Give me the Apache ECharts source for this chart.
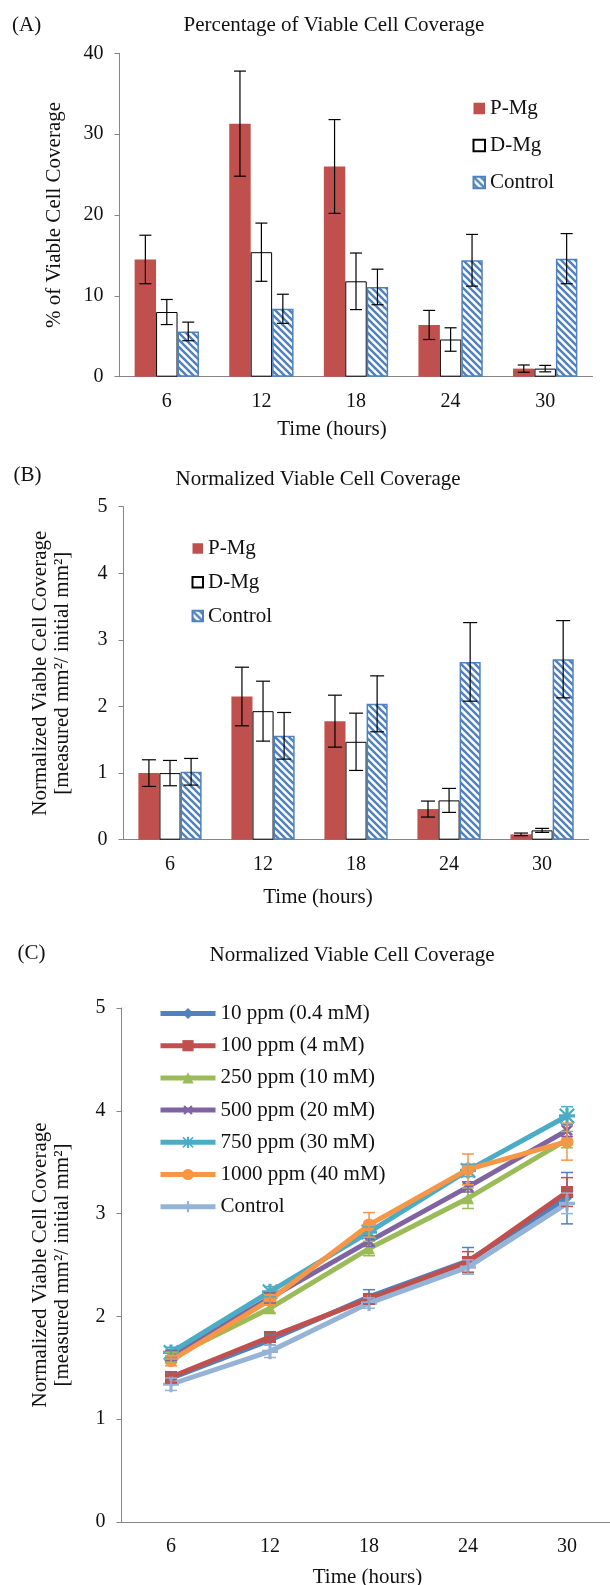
<!DOCTYPE html>
<html>
<head>
<meta charset="utf-8">
<script src="https://cdn.jsdelivr.net/npm/echarts@6/dist/echarts.min.js"></script>
<style>
  html, body { margin: 0; padding: 0; background: #fff; }
  #chart { width: 610px; height: 1585px; }
</style>
</head>
<body>
<div id="chart"></div>
<script>
let $ = a => document.querySelector(a)

// categories (hours)
const hours = ['6', '12', '18', '24', '30']

// (A) percentage of viable cell coverage
const pMgA = [14.5, 31.3, 26.0, 6.4, 1.0]
const pMgAErr = [3.0, 6.5, 5.8, 1.8, 0.45]
const dMgA = [8.0, 15.4, 11.8, 4.6, 1.0]
const dMgAErr = [1.55, 3.6, 3.5, 1.45, 0.4]
const ctlA = [5.6, 8.4, 11.1, 14.4, 14.6]
const ctlAErr = [1.15, 1.8, 2.2, 3.2, 3.1]

// (B) normalized viable cell coverage
const pMgB = [1.0, 2.15, 1.78, 0.46, 0.08]
const pMgBErr = [0.2, 0.44, 0.39, 0.12, 0.02]
const dMgB = [1.0, 1.93, 1.47, 0.59, 0.14]
const dMgBErr = [0.19, 0.45, 0.43, 0.18, 0.03]
const ctlB = [1.02, 1.56, 2.04, 2.67, 2.71]
const ctlBErr = [0.2, 0.35, 0.42, 0.59, 0.58]

// (C) normalized coverage by concentration
const names = ['10 ppm (0.4 mM)', '100 ppm (4 mM)', '250 ppm (10 mM)', '500 ppm (20 mM)', '750 ppm (30 mM)', '1000 ppm (40 mM)', 'Control ']
const ppm10 = [1.40, 1.77, 2.19, 2.54, 3.15]
const ppm10Err = [0.05, 0.05, 0.07, 0.13, 0.25]
const ppm100 = [1.41, 1.80, 2.17, 2.53, 3.21]
const ppm100Err = [0.05, 0.05, 0.05, 0.1, 0.14]
const ppm250 = [1.60, 2.08, 2.66, 3.15, 3.72]
const ppm250Err = [0.05, 0.05, 0.07, 0.1, 0.08]
const ppm500 = [1.62, 2.18, 2.73, 3.26, 3.81]
const ppm500Err = [0.05, 0.05, 0.05, 0.05, 0.06]
const ppm750 = [1.65, 2.24, 2.82, 3.42, 3.95]
const ppm750Err = [0.05, 0.05, 0.05, 0.06, 0.09]
const ppm1000 = [1.57, 2.16, 2.89, 3.43, 3.70]
const ppm1000Err = [0.05, 0.05, 0.12, 0.15, 0.18]
const ctlC = [1.34, 1.66, 2.13, 2.48, 3.10]
const ctlCErr = [0.06, 0.06, 0.05, 0.07, 0.1]

const FONT = 'Liberation Serif'
const AXIS = '#868686'
const RED = '#C0504D'
const BLUE = '#4F81BD'

// hatched fill for the control bars
const hatch = (() => {
    const c = document.createElement('canvas')
    c.width = 7; c.height = 7
    const ctx = c.getContext('2d')
    ctx.fillStyle = '#fff'
    ctx.fillRect(0, 0, 7, 7)
    ctx.strokeStyle = BLUE
    ctx.lineWidth = 2.4
    ctx.beginPath()
    ctx.moveTo(-1, -1); ctx.lineTo(8, 8)
    ctx.moveTo(-1, 6); ctx.lineTo(1, 8)
    ctx.moveTo(6, -1); ctx.lineTo(8, 1)
    ctx.stroke()
    return { image: c, repeat: 'repeat' }
})()

const CAT_GAP = 0.32

// error bars as custom series
function errBars(gi, vals, errs, idx, n, color, cap, width) {
    return {
        type: 'custom', xAxisIndex: gi, yAxisIndex: gi, z: 6, silent: true,
        data: vals.map((v, i) => [i, v, errs[i]]),
        encode: { x: 0, y: 1 },
        renderItem: (params, api) => {
            const i = api.value(0), v = api.value(1), e = api.value(2)
            const band = api.size([1, 0])[0]
            const bw = n > 1 ? band * (1 - CAT_GAP) / n : 0
            const x = api.coord([i, v])[0] + (idx - (n - 1) / 2) * bw
            const top = api.coord([i, v + e])[1]
            const bot = api.coord([i, v - e])[1]
            const st = { stroke: color, lineWidth: width }
            return {
                type: 'group', children: [
                    { type: 'line', shape: { x1: x, y1: top, x2: x, y2: bot }, style: st },
                    { type: 'line', shape: { x1: x - cap / 2, y1: top, x2: x + cap / 2, y2: top }, style: st },
                    { type: 'line', shape: { x1: x - cap / 2, y1: bot, x2: x + cap / 2, y2: bot }, style: st }
                ]
            }
        }
    }
}

function barSet(gi, p, d, c) {
    return [
        { name: 'P-Mg', type: 'bar', xAxisIndex: gi, yAxisIndex: gi, data: p,
          barGap: '0%', barCategoryGap: '32%', itemStyle: { color: RED } },
        { name: 'D-Mg', type: 'bar', xAxisIndex: gi, yAxisIndex: gi, data: d,
          barGap: '0%', barCategoryGap: '32%', itemStyle: { color: '#fff', borderColor: '#000', borderWidth: 1 } },
        { name: 'Control', type: 'bar', xAxisIndex: gi, yAxisIndex: gi, data: c,
          barGap: '0%', barCategoryGap: '32%', itemStyle: { color: hatch, borderColor: BLUE, borderWidth: 1.5 } }
    ]
}

const xAx = gi => ({
    type: 'category', gridIndex: gi, data: hours,
    axisLine: { lineStyle: { color: AXIS } },
    axisTick: { length: 6, lineStyle: { color: AXIS } },
    axisLabel: { color: '#111', fontFamily: FONT, fontSize: 20, margin: 15 }
})
const yAx = (gi, max, step, name, gap) => ({
    type: 'value', gridIndex: gi, min: 0, max: max, interval: step,
    splitLine: { show: false },
    axisLine: { show: true, lineStyle: { color: AXIS } },
    axisTick: { show: true, length: 5, lineStyle: { color: AXIS } },
    axisLabel: { color: '#111', fontFamily: FONT, fontSize: 20, margin: 16 },
    name: name, nameLocation: 'middle', nameGap: gap,
    nameTextStyle: { color: '#111', fontFamily: FONT, fontSize: 21, lineHeight: 22 }
})

const txt = (text, x, y, align) => ({
    type: 'text', x: x, y: y,
    style: { text: text, font: '21px "' + FONT + '"', fill: '#111', align: align || 'center', verticalAlign: 'middle' }
})

// markers
const plusPath = 'path://M4,0H6V4H10V6H6V10H4V6H0V4H4Z'
const starPath = 'path://M4,0H6V4H10V6H6V10H4V6H0V4H4Z M0,1L1,0L10,9L9,10Z M9,0L10,1L1,10L0,9Z'
const lineColors = ['#4F81BD', '#C0504D', '#9BBB59', '#8064A2', '#4BACC6', '#F79646', '#95B3D7']
const lineData = [ppm10, ppm100, ppm250, ppm500, ppm750, ppm1000, ctlC]
const lineErr = [ppm10Err, ppm100Err, ppm250Err, ppm500Err, ppm750Err, ppm1000Err, ctlCErr]
const symbols = ['diamond', 'rect', 'triangle', plusPath, starPath, 'circle', plusPath]
const symSizes = [10, 12, 12, 14, 16, 13, 16]
const symRot = [0, 0, 0, 45, 0, 0, 0]

const lineSeries = names.map((n, k) => ({
    name: n, type: 'line', xAxisIndex: 2, yAxisIndex: 2, data: lineData[k],
    symbol: symbols[k], symbolSize: symSizes[k], symbolRotate: symRot[k],
    color: lineColors[k],
    lineStyle: { width: 5, color: lineColors[k] },
    itemStyle: { color: lineColors[k] },
    z: 3 + k * 0.01
}))
const lineErrSeries = names.map((n, k) => errBars(2, lineData[k], lineErr[k], 0, 1, lineColors[k], 12, 1.5))

const legendText = { fontFamily: FONT, fontSize: 21, color: '#111' }

echarts.init($('#chart')).setOption({
    animation: false,
    backgroundColor: '#fff',
    grid: [
        { left: 119.5, top: 53.3, right: 17.5, height: 323.4, outerBoundsMode: 'none' },
        { left: 123.5, top: 506.7, right: 21.4, height: 333, outerBoundsMode: 'none' },
        { left: 121.5, top: 1008, right: -6.5, height: 514, outerBoundsMode: 'none' }
    ],
    xAxis: [xAx(0), xAx(1), xAx(2)],
    yAxis: [
        yAx(0, 40, 10, '% of Viable Cell Coverage', 54),
        yAx(1, 5, 1, 'Normalized Viable Cell Coverage\n[measured mm\u00b2/ initial mm\u00b2]', 50),
        yAx(2, 5, 1, 'Normalized Viable Cell Coverage\n[measured mm\u00b2/ initial mm\u00b2]', 48)
    ],
    legend: [
        { data: ['P-Mg', 'D-Mg', 'Control'], orient: 'vertical', left: 467.5, top: 93,
          itemWidth: 11.5, itemHeight: 11.5, itemGap: 16, icon: 'rect', textStyle: legendText,
          selectedMode: false },
        { data: ['P-Mg', 'D-Mg', 'Control'], orient: 'vertical', left: 186.5, top: 533,
          itemWidth: 10.5, itemHeight: 10.5, itemGap: 12.8, icon: 'rect', textStyle: legendText,
          selectedMode: false },
        { data: names, orient: 'vertical', left: 153, top: 998,
          itemWidth: 55, itemHeight: 14, itemGap: 11.2, textStyle: legendText,
          lineStyle: { width: 5 }, formatter: n => n.trim(),
          selectedMode: false }
    ],
    graphic: [
        txt('(A)', 12, 25, 'left'),
        txt('Percentage of Viable Cell Coverage', 334, 25),
        txt('Time (hours)', 332, 429),
        txt('(B)', 13.5, 475, 'left'),
        txt('Normalized Viable Cell Coverage', 318, 479),
        txt('Time (hours)', 318, 897),
        txt('(C)', 17.5, 953, 'left'),
        txt('Normalized Viable Cell Coverage', 352, 955),
        txt('Time (hours)', 367.5, 1577)
    ],
    series: [
        ...barSet(0, pMgA, dMgA, ctlA),
        errBars(0, pMgA, pMgAErr, 0, 3, '#000', 12, 1.2),
        errBars(0, dMgA, dMgAErr, 1, 3, '#000', 12, 1.2),
        errBars(0, ctlA, ctlAErr, 2, 3, '#000', 12, 1.2),
        ...barSet(1, pMgB, dMgB, ctlB),
        errBars(1, pMgB, pMgBErr, 0, 3, '#000', 14, 1.2),
        errBars(1, dMgB, dMgBErr, 1, 3, '#000', 14, 1.2),
        errBars(1, ctlB, ctlBErr, 2, 3, '#000', 14, 1.2),
        ...lineErrSeries,
        ...lineSeries
    ]
})
</script>
</body>
</html>
